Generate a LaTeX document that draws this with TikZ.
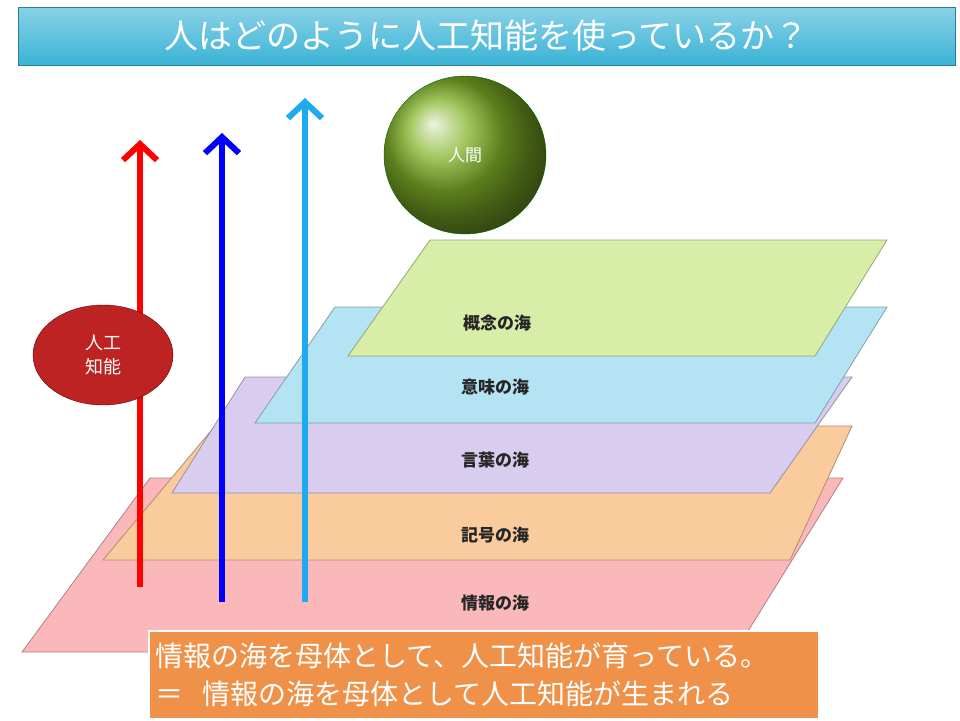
\documentclass[tikz,border=0pt]{standalone}
\usepackage{fontspec}
\setmainfont{Noto Sans CJK JP}
\newfontfamily\boldjp{Noto Sans CJK JP Bold}
\usetikzlibrary{arrows.meta,shapes.geometric}
\begin{document}
\begin{tikzpicture}[x=1pt,y=-1pt,
  plane/.style={draw=#1!70!black,line width=0.8pt,fill=#1},
  lab/.style={font=\fontsize{17}{20}\selectfont\bfseries,text=black!85},
  upar/.style={line width=6pt,-{Straight Barb[length=16pt,width=34pt,line width=6pt]}}]
\useasboundingbox (0,0) rectangle (960,720);
\definecolor{pk}{HTML}{FBB8BA}\definecolor{orp}{HTML}{FACB9C}
\definecolor{pu}{HTML}{D8CDEE}\definecolor{bl}{HTML}{B4E3F3}
\definecolor{gr}{HTML}{D8EDA8}\definecolor{tb}{HTML}{3BB3D6}
\definecolor{ob}{HTML}{F0914A}
\node[draw=tb!70!black,top color=tb!60!white,bottom color=tb,minimum width=937pt,minimum height=58pt,inner sep=0pt,
  text=white,font=\fontsize{34}{38}\selectfont] (title) at (486.5,36) {人はどのように人工知能を使っているか？};
\draw[plane=pk] (150,478) -- (843,478) -- (735,652) -- (22,652) -- cycle;
\node[lab] (l1) at (495,603) {情報の海};
\draw[plane=orp] (215,426) -- (852,426) -- (790,560) -- (103,560) -- cycle;
\node[lab] (l2) at (495,535) {記号の海};
\draw[plane=pu] (245,377) -- (852,377) -- (770,493) -- (172,493) -- cycle;
\node[lab] (l3) at (495,460) {言葉の海};
\draw[plane=bl] (335,307) -- (887,307) -- (815,423) -- (255,423) -- cycle;
\node[lab] (l4) at (495,387) {意味の海};
\draw[plane=gr] (430,240) -- (887,240) -- (815,356) -- (348,356) -- cycle;
\node[lab] (l5) at (497,323) {概念の海};
\coordinate (r0) at (140,587); \coordinate (r1) at (140,140);
\coordinate (b0) at (222,602); \coordinate (b1) at (222,133);
\coordinate (c0) at (305,602); \coordinate (c1) at (305,98);
\draw[upar,red] (r0) -- (r1);
\draw[upar,blue] (b0) -- (b1);
\draw[upar,color={rgb,255:red,30;green,170;blue,240}] (c0) -- (c1);
\node[ellipse,draw=green!40!black,ball color={rgb,255:red,130;green,180;blue,40},shading=ball,minimum width=162pt,minimum height=158pt,
  inner sep=0pt,text=white,font=\fontsize{17}{20}\selectfont] (hum) at (465,155) {人間};
\node[ellipse,draw=red!40!black,fill={rgb,255:red,190;green,35;blue,35},minimum width=140pt,minimum height=100pt,
  inner sep=0pt,text=white,align=center,font=\fontsize{18}{24}\selectfont] (ai) at (103,355) {人工\\知能};
\node[draw=white,line width=1.5pt,fill=ob,minimum width=670pt,minimum height=88pt,inner sep=6pt,anchor=north west,
  text=white,align=left,font=\fontsize{28}{38}\selectfont,text width=656pt] (box) at (148,630)
  {情報の海を母体として、人工知能が育っている。\\＝\ \ 情報の海を母体として人工知能が生まれる};
\end{tikzpicture}
\end{document}
